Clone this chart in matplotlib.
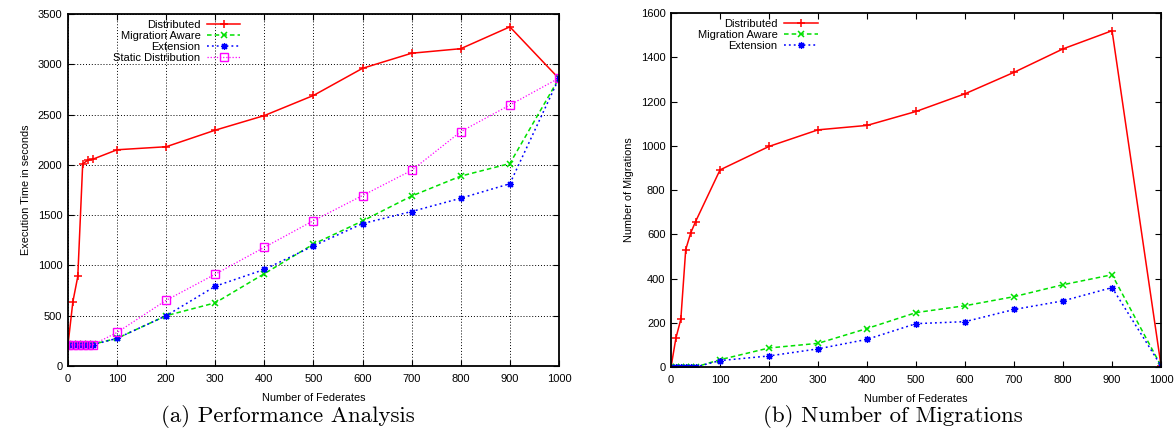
import numpy as np
import matplotlib
matplotlib.use("Agg")
import matplotlib.pyplot as plt

plt.rcParams["font.family"] = ["Liberation Sans", "DejaVu Sans"]

# ---- data ----
federates = [0, 10, 20, 30, 40, 50, 100, 200, 300, 400, 500, 600, 700, 800, 900, 1000]

# (a) execution time in seconds
time_distributed = [210, 640, 890, 2010, 2045, 2055, 2150, 2180, 2345, 2490, 2690, 2960, 3110, 3155, 3372, 2858]
time_migration_aware = [210, 215, 215, 215, 215, 215, 275, 500, 628, 918, 1212, 1442, 1690, 1888, 2013, 2860]
time_extension = [210, 210, 210, 210, 210, 210, 275, 500, 793, 960, 1194, 1416, 1536, 1668, 1812, 2860]
time_static = [210, 210, 210, 210, 210, 210, 333, 653, 913, 1180, 1445, 1695, 1945, 2330, 2595, 2862]

# (b) number of migrations
mig_distributed = [0, 131, 216, 531, 605, 657, 891, 997, 1072, 1092, 1155, 1235, 1332, 1438, 1520, 5]
mig_migration_aware = [0, 0, 0, 0, 0, 0, 33, 86, 107, 174, 246, 277, 318, 372, 417, 5]
mig_extension = [0, 0, 0, 0, 0, 0, 29, 50, 82, 125, 196, 205, 260, 299, 359, 5]

RED, GREEN, BLUE, MAGENTA = "#ff0000", "#00e000", "#0000ff", "#ff00ff"
ASTER = (8, 2, 0)


def style_axes(ax, ymax, ystep, grid):
    ax.set_xlim(0, 1000)
    ax.set_ylim(0, ymax)
    ax.set_xticks(np.arange(0, 1001, 100))
    ax.set_yticks(np.arange(0, ymax + 1, ystep))
    ax.tick_params(direction="in", length=4, width=0.8, top=True, right=True,
                   labelsize=8, pad=4)
    ax.tick_params(axis="x", pad=6)
    for s in ax.spines.values():
        s.set_linewidth(1.3)
    if grid:
        ax.grid(True, color="black", linestyle=(0, (1, 2)), linewidth=0.7)
    ax.set_xlabel("Number of Federates", fontsize=7.8, labelpad=6)


def plot_series(ax, ys, with_static):
    ax.plot(federates, ys[0], color=RED, lw=1.1, marker="+", ms=6, mew=1.1,
            label="Distributed")
    ax.plot(federates, ys[1], color=GREEN, lw=1.1, ls=(0, (3, 2)), marker="x",
            ms=5, mew=1.1, label="Migration Aware")
    ax.plot(federates, ys[2], color=BLUE, lw=1.1, ls=(0, (1.2, 2)), marker=ASTER,
            ms=5, mew=0.9, label="Extension")
    if with_static:
        ax.plot(federates, ys[3], color=MAGENTA, lw=0.9, ls=(0, (1, 1.5)), marker="s",
                ms=6, mfc="none", mew=1.0, label="Static Distribution")


fig = plt.figure(figsize=(11.76, 4.28), dpi=100)

# ---- (a) Performance Analysis ----
ax1 = fig.add_axes([0.0578, 0.1449, 0.4175, 0.8224])
plot_series(ax1, [time_distributed, time_migration_aware, time_extension, time_static], True)
style_axes(ax1, 3500, 500, grid=True)
ax1.set_ylabel("Execution Time in seconds", fontsize=7.8, labelpad=5)
ax1.legend(loc="upper left", bbox_to_anchor=(0.08, 1.0), frameon=False, markerfirst=False,
           fontsize=8, handlelength=3.0, labelspacing=0.08, handletextpad=0.6,
           borderaxespad=0.15)
fig.text(288 / 1176, 0.015, "(a) Performance Analysis", ha="center",
         va="baseline", family="cmr10", fontsize=16.5)

# ---- (b) Number of Migrations ----
ax2 = fig.add_axes([0.5706, 0.1425, 0.4167, 0.8271])
plot_series(ax2, [mig_distributed, mig_migration_aware, mig_extension], False)
style_axes(ax2, 1600, 200, grid=False)
ax2.set_ylabel("Number of Migrations", fontsize=7.8, labelpad=5)
ax2.legend(loc="upper left", bbox_to_anchor=(0.042, 1.0), frameon=False, markerfirst=False,
           fontsize=8, handlelength=3.0, labelspacing=0.08, handletextpad=0.6,
           borderaxespad=0.15)
fig.text(893 / 1176, 0.015, "(b) Number of Migrations", ha="center",
         va="baseline", family="cmr10", fontsize=16.5)

fig.savefig("out.png", dpi=100)
